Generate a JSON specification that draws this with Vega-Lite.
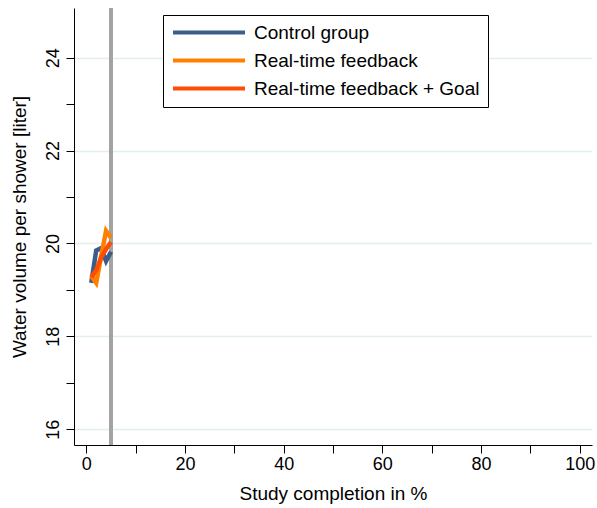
{
  "$schema": "https://vega.github.io/schema/vega-lite/v6.json",
  "width": 518,
  "height": 437,
  "autosize": {"type": "none"},
  "padding": {"left": 74, "top": 8, "right": 5, "bottom": 63},
  "background": "white",
  "config": {
    "view": {"stroke": null},
    "font": "Liberation Sans",
    "axis": {
      "domainColor": "black",
      "domainWidth": 1,
      "tickColor": "black",
      "tickWidth": 1,
      "tickSize": 8,
      "labelColor": "black",
      "labelFontSize": 18,
      "titleColor": "black",
      "titleFontSize": 19,
      "titleFontWeight": "normal"
    }
  },
  "encoding": {
    "x": {
      "field": "x",
      "type": "quantitative",
      "scale": {"domain": [-2.5, 102.5], "nice": false, "zero": false},
      "axis": {
        "title": "Study completion in %",
        "values": [0, 10, 20, 30, 40, 50, 60, 70, 80, 90, 100],
        "labelExpr": "datum.value % 20 == 0 ? datum.label : ''",
        "grid": false,
        "labelPadding": 2,
        "titlePadding": 11,
        "labelFlush": false,
        "labelOverlap": false
      }
    }
  },
  "layer": [
    {
      "data": {"values": [{"x": 5}]},
      "mark": {"type": "rule", "color": "#a3a3a3", "strokeWidth": 4}
    },
    {
      "data": {
        "values": [
          {"series": "Control group", "x": 1, "y": 19.15},
          {"series": "Control group", "x": 2, "y": 19.85},
          {"series": "Control group", "x": 3, "y": 19.9},
          {"series": "Control group", "x": 4, "y": 19.62},
          {"series": "Control group", "x": 5, "y": 19.82},
          {"series": "Real-time feedback", "x": 1, "y": 19.3},
          {"series": "Real-time feedback", "x": 2, "y": 19.15},
          {"series": "Real-time feedback", "x": 3, "y": 19.72},
          {"series": "Real-time feedback", "x": 4, "y": 20.27},
          {"series": "Real-time feedback", "x": 5, "y": 20.12},
          {"series": "Real-time feedback + Goal", "x": 1, "y": 19.27},
          {"series": "Real-time feedback + Goal", "x": 2, "y": 19.42},
          {"series": "Real-time feedback + Goal", "x": 3, "y": 19.7},
          {"series": "Real-time feedback + Goal", "x": 4, "y": 19.88},
          {"series": "Real-time feedback + Goal", "x": 5, "y": 20.03}
        ]
      },
      "mark": {"type": "line", "strokeWidth": 4.5},
      "encoding": {
        "y": {
          "field": "y",
          "type": "quantitative",
          "scale": {"domain": [15.66, 25.07], "nice": false, "zero": false},
          "axis": {
            "title": "Water volume per shower [liter]",
            "values": [16, 17, 18, 19, 20, 21, 22, 23, 24],
            "labelExpr": "datum.value % 2 == 0 ? datum.label : ''",
            "labelAngle": -90,
            "labelAlign": "center",
            "labelBaseline": "bottom",
            "labelPadding": 4,
            "titlePadding": 15,
            "grid": true,
            "gridColor": "#e4edf0",
            "gridWidth": 1.5,
            "gridOpacity": {"condition": {"test": "datum.value % 2 != 0", "value": 0}, "value": 1},
            "labelOverlap": false
          }
        },
        "color": {
          "field": "series",
          "type": "nominal",
          "scale": {
            "domain": ["Control group", "Real-time feedback", "Real-time feedback + Goal"],
            "range": ["#3a5d89", "#ff8000", "#ff4e00"]
          },
          "legend": {
            "title": null,
            "orient": "none",
            "legendX": 89,
            "legendY": 7,
            "symbolType": "stroke",
            "symbolSize": 5184,
            "symbolStrokeWidth": 4,
            "clipHeight": 19,
            "labelFontSize": 19,
            "labelColor": "black",
            "labelOffset": 7,
            "rowPadding": 8,
            "padding": 8,
            "strokeColor": "black",
            "fillColor": "white",
            "labelLimit": 400
          }
        }
      }
    }
  ]
}
